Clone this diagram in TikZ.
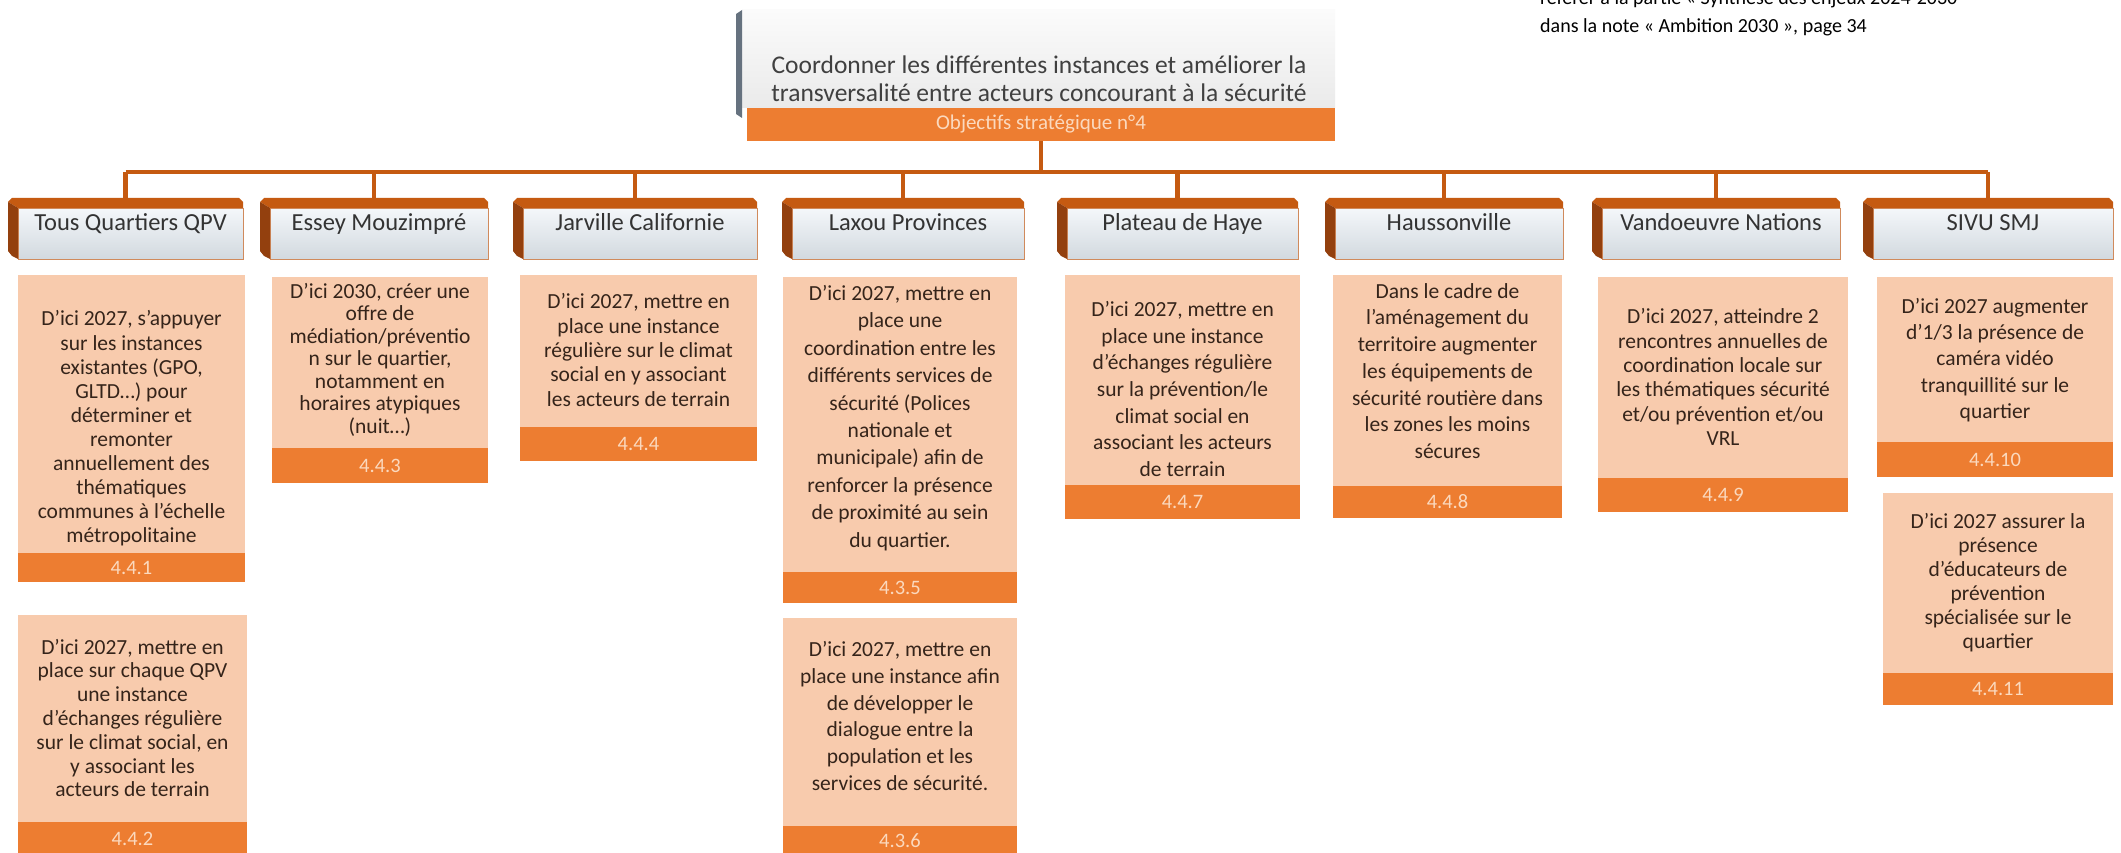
\documentclass[tikz,border=0pt]{standalone}
\usepackage{fontspec}
\setmainfont{Carlito}
\usetikzlibrary{calc}
\definecolor{peach}{HTML}{F8CBAD}
\definecolor{barC}{HTML}{ED7D31}
\definecolor{barT}{HTML}{FBD9BE}
\definecolor{connC}{HTML}{C55A11}
\definecolor{slabTop}{HTML}{C55A11}
\definecolor{slabSide}{HTML}{93400E}
\definecolor{faceTop}{HTML}{F4F7FA}
\definecolor{faceBot}{HTML}{D2D9DF}
\definecolor{faceBorder}{HTML}{D08A5C}
\definecolor{hdrT}{HTML}{333333}
\definecolor{cardT}{HTML}{35241A}
\definecolor{topTop}{HTML}{FBFBFB}
\definecolor{topBot}{HTML}{EAEAEA}
\definecolor{stripC}{HTML}{66727F}
\definecolor{topT}{HTML}{404040}

\newcommand{\hdr}[4]{%
  \pgfmathsetmacro\hW{#3-#2-10}\pgfmathsetmacro\hX{(#2+10+#3)/2}%
  \node[hface, minimum width=\hW pt, minimum height=51pt] (#1) at (\hX,233.5) {#4};
  \fill[slabTop] ($(#1.north west)+(-10,-6)$) -- ($(#1.north west)+(-6,-10)$) -- ($(#1.north east)+(-4,-10)$) -- ($(#1.north east)+(0,-6)$) -- (#1.north east) -- (#1.north west) -- cycle;
  \fill[slabSide] ($(#1.north west)+(-10,-6)$) -- (#1.north west) -- (#1.south west) -- ($(#1.south west)+(-6,-3)$) -- ($(#1.south west)+(-10,-8)$) -- cycle;
  \coordinate (#1top) at ($(#1.north)+(-5,-10)$);
}
\newcommand{\cardbox}[7]{%
  \pgfmathsetmacro\cW{#3-#2}\pgfmathsetmacro\cX{(#2+#3)/2}%
  \pgfmathsetmacro\cH{#5-#4}\pgfmathsetmacro\cY{(#4+#5)/2}%
  \pgfmathsetmacro\bH{#6-#5}\pgfmathsetmacro\bY{(#5+#6)/2}%
  \node[cbody, minimum width=\cW pt, minimum height=\cH pt] (#1) at (\cX,\cY) {};
  \node[cbar, minimum width=\cW pt, minimum height=\bH pt] (#1bar) at (\cX,\bY) {#7};
}
\newcommand{\cardtext}[4]{%
  \node[ctext, font=\fontsize{21.5}{#3}\selectfont] (#1t) at (#1.center |- 0,#2) {#4};
}

\begin{document}
\begin{tikzpicture}[x=1pt,y=-1pt,
  conn/.style={draw=connC, line width=4.2pt},
  cbody/.style={rectangle, fill=peach, draw=none, inner sep=0pt, outer sep=0pt},
  cbar/.style={rectangle, fill=barC, text=barT, font=\fontsize{20.5}{22}\selectfont, inner sep=0pt, outer sep=0pt},
  ctext/.style={align=center, text=cardT, inner sep=0pt},
  hface/.style={rectangle, top color=faceTop, bottom color=faceBot, draw=faceBorder, line width=0.8pt, text=hdrT, font=\fontsize{24.5}{27}\selectfont, inner sep=0pt, outer sep=0pt, text height=17pt, text depth=22pt},
  tface/.style={rectangle, top color=topTop, bottom color=topBot, draw=none, inner sep=0pt, outer sep=0pt},
  tbarst/.style={rectangle, fill=barC, text=barT, font=\fontsize{21}{24}\selectfont, inner sep=0pt, outer sep=0pt},
  annot/.style={font=\fontsize{20}{24}\selectfont, text=black, inner sep=0pt}
]
\useasboundingbox (0,0) rectangle (2121,853);
\fill[white] (0,0) rectangle (2121,853);

% annotation (top right, partly cut)
\node[annot, anchor=base west] (note1) at (1540,5) {référer à la partie « Synthèse des enjeux 2024-2030};
\node[annot, anchor=base west] (note2) at (1540,33) {dans la note « Ambition 2030 », page 34};

% top box
\node[tface, minimum width=593pt, minimum height=98pt] (top) at (1038.5,59) {};
\fill[stripC] ($(top.north west)+(-6,4)$) -- (top.north west) -- ($(top.south west)+(0,10)$) -- ($(top.south west)+(-6,6)$) -- cycle;
\node[text=topT, align=center, inner sep=0pt, font=\fontsize{25.5}{28}\selectfont] (toptxt) at (1039,79) {Coordonner les différentes instances et améliorer la\\transversalité entre acteurs concourant à la sécurité};
\node[tbarst, minimum width=588pt, minimum height=33pt] (tbar) at (1041,124.5) {Objectifs stratégique n°4};

% headers
\hdr{h1}{8}{243}{Tous Quartiers QPV}
\hdr{h2}{260}{488}{Essey Mouzimpré}
\hdr{h3}{513}{757}{Jarville Californie}
\hdr{h4}{782}{1024}{Laxou Provinces}
\hdr{h5}{1057}{1298}{Plateau de Haye}
\hdr{h6}{1325}{1563}{Haussonville}
\hdr{h7}{1592}{1840}{Vandoeuvre Nations}
\hdr{h8}{1863}{2113}{SIVU SMJ}

% connectors
\coordinate (bus) at (0,172);
\draw[conn] (tbar.south) -- (tbar.south |- bus);
\draw[conn] (h1top |- bus) -- (h8top |- bus);
\foreach \h in {h1,h2,h3,h4,h5,h6,h7,h8}{
  \draw[conn] (\h top |- bus) -- (\h top);
}

% cards
\cardbox{c1a}{18}{245}{275}{553}{582}{4.4.1}
\cardbox{c1b}{18}{247}{615}{822}{856}{4.4.2}
\cardbox{c2}{272}{488}{277}{448}{483}{4.4.3}
\cardbox{c3}{520}{757}{275}{427}{461}{4.4.4}
\cardbox{c4a}{783}{1017}{277}{572}{603}{4.3.5}
\cardbox{c4b}{783}{1017}{618}{826}{856}{4.3.6}
\cardbox{c5}{1065}{1300}{275}{485}{519}{4.4.7}
\cardbox{c6}{1333}{1562}{275}{486}{518}{4.4.8}
\cardbox{c7}{1598}{1848}{277}{478}{512}{4.4.9}
\cardbox{c8a}{1877}{2113}{277}{442}{477}{4.4.10}
\cardbox{c8b}{1883}{2113}{493}{673}{705}{4.4.11}

\cardtext{c1a}{428.5}{24.1}{D’ici 2027, s’appuyer\\sur les instances\\existantes (GPO,\\GLTD…) pour\\déterminer et\\remonter\\annuellement des\\thématiques\\communes à l’échelle\\métropolitaine}
\cardtext{c1b}{718}{23.8}{D’ici 2027, mettre en\\place sur chaque QPV\\une instance\\d’échanges régulière\\sur le climat social, en\\y associant les\\acteurs de terrain}
\cardtext{c2}{359.5}{22.5}{D’ici 2030, créer une\\offre de\\médiation/préventio\\n sur le quartier,\\notamment en\\horaires atypiques\\(nuit…)}
\cardtext{c3}{350}{24.3}{D’ici 2027, mettre en\\place une instance\\régulière sur le climat\\social en y associant\\les acteurs de terrain}
\cardtext{c4a}{418}{27.4}{D’ici 2027, mettre en\\place une\\coordination entre les\\différents services de\\sécurité (Polices\\nationale et\\municipale) afin de\\renforcer la présence\\de proximité au sein\\du quartier.}
\cardtext{c4b}{716}{26.8}{D’ici 2027, mettre en\\place une instance afin\\de développer le\\dialogue entre la\\population et les\\services de sécurité.}
\cardtext{c5}{389}{26.7}{D’ici 2027, mettre en\\place une instance\\d’échanges régulière\\sur la prévention/le\\climat social en\\associant les acteurs\\de terrain}
\cardtext{c6}{371}{26.7}{Dans le cadre de\\l’aménagement du\\territoire augmenter\\les équipements de\\sécurité routière dans\\les zones les moins\\sécures}
\cardtext{c7}{377}{24.3}{D’ici 2027, atteindre 2\\rencontres annuelles de\\coordination locale sur\\les thématiques sécurité\\et/ou prévention et/ou\\VRL}
\cardtext{c8a}{360}{26.2}{D’ici 2027 augmenter\\d’1/3 la présence de\\caméra vidéo\\tranquillité sur le\\quartier}
\cardtext{c8b}{583}{24}{D’ici 2027 assurer la\\présence\\d’éducateurs de\\prévention\\spécialisée sur le\\quartier}
\end{tikzpicture}
\end{document}
